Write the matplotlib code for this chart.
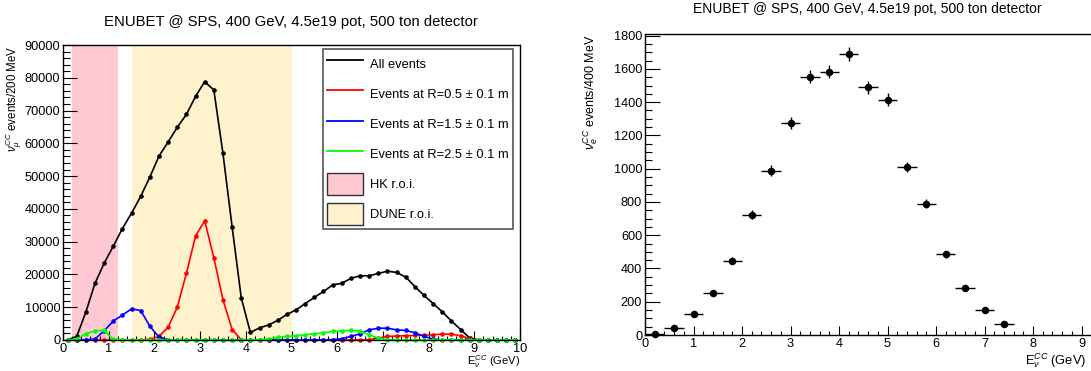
import numpy as np
import matplotlib
matplotlib.use("Agg")
import matplotlib.pyplot as plt
from matplotlib.lines import Line2D
from matplotlib.patches import Patch

plt.rcParams['font.family'] = ['Liberation Sans', 'DejaVu Sans']
plt.rcParams['mathtext.fontset'] = 'custom'
plt.rcParams['mathtext.rm'] = 'Liberation Sans'
plt.rcParams['mathtext.it'] = 'Liberation Sans:italic'
plt.rcParams['mathtext.bf'] = 'Liberation Sans:bold'

# ---------------- data ----------------
title = "ENUBET @ SPS, 400 GeV, 4.5e19 pot, 500 ton detector"

# left panel: nu_mu CC events / 200 MeV (in thousands), bin centres 0.1 .. 9.9
energy_mu = np.round(np.arange(0.1, 10.0, 0.2), 1)
all_events_k = [0, 1.1, 8.5, 17.3, 23.4, 28.6, 34.0, 38.7, 43.8, 49.7,
                56.1, 60.4, 64.9, 68.8, 74.3, 78.8, 76.3, 56.9, 34.6, 12.9,
                2.3, 3.7, 4.6, 6.0, 7.8, 9.2, 11.1, 13.0, 14.8, 16.8,
                17.3, 18.8, 19.6, 19.6, 20.3, 21.0, 20.6, 19.2, 16.3, 13.6,
                11.1, 8.6, 5.8, 3.2, 0.6, 0, 0, 0, 0, 0]
r05_k = [0, 0, 0, 0, 0, 0, 0, 0, 0, 0.2,
         1.1, 3.9, 10.0, 20.3, 31.7, 36.4, 25.1, 12.3, 3.2, 0.1,
         0, 0, 0, 0, 0, 0, 0, 0, 0, 0,
         0, 0, 0, 0.1, 0.6, 1.1, 1.2, 1.3, 1.4, 1.5,
         1.6, 1.8, 1.8, 1.3, 0.3, 0, 0, 0, 0, 0]
r15_k = [0, 0, 0, 0.3, 2.8, 5.8, 7.6, 9.5, 9.0, 4.2,
         0.9, 0.1, 0, 0, 0, 0, 0, 0, 0, 0,
         0, 0, 0, 0, 0, 0, 0, 0, 0, 0.1,
         0.4, 1.1, 1.9, 3.1, 3.6, 3.6, 3.1, 2.9, 2.2, 1.1,
         0.3, 0, 0, 0, 0, 0, 0, 0, 0, 0]
r25_k = [0, 0.3, 1.9, 2.8, 2.9, 0.2, 0, 0, 0, 0,
         0, 0, 0, 0, 0, 0, 0, 0, 0, 0,
         0, 0.1, 0.3, 0.8, 1.1, 1.3, 1.6, 1.9, 2.2, 2.6,
         2.8, 3.0, 2.7, 1.6, 0.6, 0.1, 0, 0, 0, 0,
         0, 0, 0, 0, 0, 0, 0, 0, 0, 0]
series_labels = ["All events", "Events at R=0.5 \u00b1 0.1 m",
                 "Events at R=1.5 \u00b1 0.1 m", "Events at R=2.5 \u00b1 0.1 m"]
roi_labels = ["HK r.o.i.", "DUNE r.o.i."]
hk_roi = (0.2, 1.2)
dune_roi = (1.5, 5.0)

# right panel: nu_e CC events / 400 MeV
energy_e = [0.2, 0.6, 1.0, 1.4, 1.8, 2.2, 2.6, 3.0, 3.4, 3.8,
            4.2, 4.6, 5.0, 5.4, 5.8, 6.2, 6.6, 7.0, 7.4]
nue_events = [4, 40, 126, 254, 447, 723, 989, 1277, 1554, 1583,
              1689, 1489, 1415, 1009, 790, 485, 283, 153, 66]
bin_half_width = 0.2

# ---------------- figure ----------------
W, H = 1091, 371
fig = plt.figure(figsize=(W / 100, H / 100), dpi=100)


def px_axes(l, t, r, b):
    return fig.add_axes([l / W, 1 - b / H, (r - l) / W, (b - t) / H])


PINK = "#FFC8D3"
YELLOW = "#FFF2CC"
tick_fs = 9.2

# ---- left panel ----
ax1 = px_axes(63, 45, 520, 340)
ax1.axvspan(*hk_roi, color=PINK, lw=0, zorder=0)
ax1.axvspan(*dune_roi, color=YELLOW, lw=0, zorder=0)

colors = ["black", "#FF0000", "#0000FF", "#00FF00"]
for vals, c in zip([all_events_k, r05_k, r15_k, r25_k], colors):
    ax1.plot(energy_mu, np.array(vals) * 1000, color=c, lw=1.2,
             marker='o', ms=2.3, mec=c, mfc=c, zorder=3, clip_on=False)

ax1.set_xlim(0, 10)
ax1.set_ylim(0, 90000)
ax1.set_xticks(np.arange(0, 11, 1))
ax1.set_xticks(np.arange(0, 10.01, 0.2), minor=True)
ax1.set_yticks(np.arange(0, 90001, 10000))
ax1.set_yticks(np.arange(0, 90001, 2000), minor=True)
ax1.tick_params(axis='both', which='both', direction='in', top=False, right=False,
                labelsize=tick_fs, width=0.8)
ax1.tick_params(axis='x', which='major', length=6.5, pad=1.8)
ax1.tick_params(axis='x', which='minor', length=3.2)
ax1.tick_params(axis='y', which='major', length=9.8, pad=2)
ax1.tick_params(axis='y', which='minor', length=5)
for s in ax1.spines.values():
    s.set_linewidth(1.0)
    s.set_zorder(5)

handles = [Line2D([], [], color=c, lw=1.3) for c in colors]
handles += [Patch(facecolor=PINK, edgecolor="#333333", lw=1.0),
            Patch(facecolor=YELLOW, edgecolor="#333333", lw=1.0)]
labels = series_labels + roi_labels
leg = ax1.legend(handles, labels, loc='upper right',
                 bbox_to_anchor=(513 / W, 1 - 49 / H), bbox_transform=fig.transFigure,
                 borderaxespad=0, fontsize=9.3, handlelength=2.8, handleheight=2.25,
                 handletextpad=0.55, labelspacing=0.62, borderpad=0.3,
                 fancybox=False, framealpha=1)
leg.get_frame().set_edgecolor("#555555")
leg.get_frame().set_linewidth(1.2)
leg.set_zorder(10)

fig.text(291 / W, 1 - 22 / H, title, ha='center', va='center', fontsize=10.7)
fig.text(14 / W, 1 - 45 / H, r"$\nu_{\mu}^{CC}$ events/200 MeV", rotation=90,
         ha='center', va='top', fontsize=8.3)
fig.text(520 / W, 1 - 370 / H, r"E$_{\nu}^{CC}$ (GeV)", ha='right', va='bottom',
         fontsize=8.0)

# ---- right panel ----
ax2 = px_axes(645, 34.3, 1130, 335)
yerr = np.sqrt(np.array(nue_events, dtype=float))
ax2.errorbar(energy_e, nue_events, xerr=bin_half_width, yerr=yerr, fmt='o',
             color='black', ms=4.4, elinewidth=1.0, capsize=0, clip_on=False, zorder=3)
ax2.set_xlim(0, 10)
ax2.set_ylim(0, 1808)
ax2.set_xticks(np.arange(0, 11, 1))
ax2.set_xticklabels([str(v) for v in range(10)] + [""])
ax2.set_xticks(np.arange(0, 10.01, 0.2), minor=True)
ax2.set_yticks(np.arange(0, 1801, 200))
ax2.set_yticks(np.arange(0, 1801, 50), minor=True)
ax2.tick_params(axis='both', which='both', direction='in', top=False, right=False,
                labelsize=tick_fs, width=0.8)
ax2.tick_params(axis='x', which='major', length=6.5, pad=2.5)
ax2.tick_params(axis='x', which='minor', length=3.2)
ax2.tick_params(axis='y', which='major', length=10.5, pad=2)
ax2.tick_params(axis='y', which='minor', length=5.2)
for s in ax2.spines.values():
    s.set_linewidth(1.0)

fig.text(867 / W, 1 - 9 / H, title, ha='center', va='center', fontsize=10.0)
fig.text(591 / W, 1 - 34 / H, r"$\nu_{e}^{CC}$ events/400 MeV", rotation=90,
         ha='center', va='top', fontsize=9.0)
fig.text(1025 / W, 1 - 370 / H, r"E$_{\nu}^{CC}$ (GeV)", ha='left', va='bottom',
         fontsize=9.3)

fig.savefig("out.png", dpi=100)
